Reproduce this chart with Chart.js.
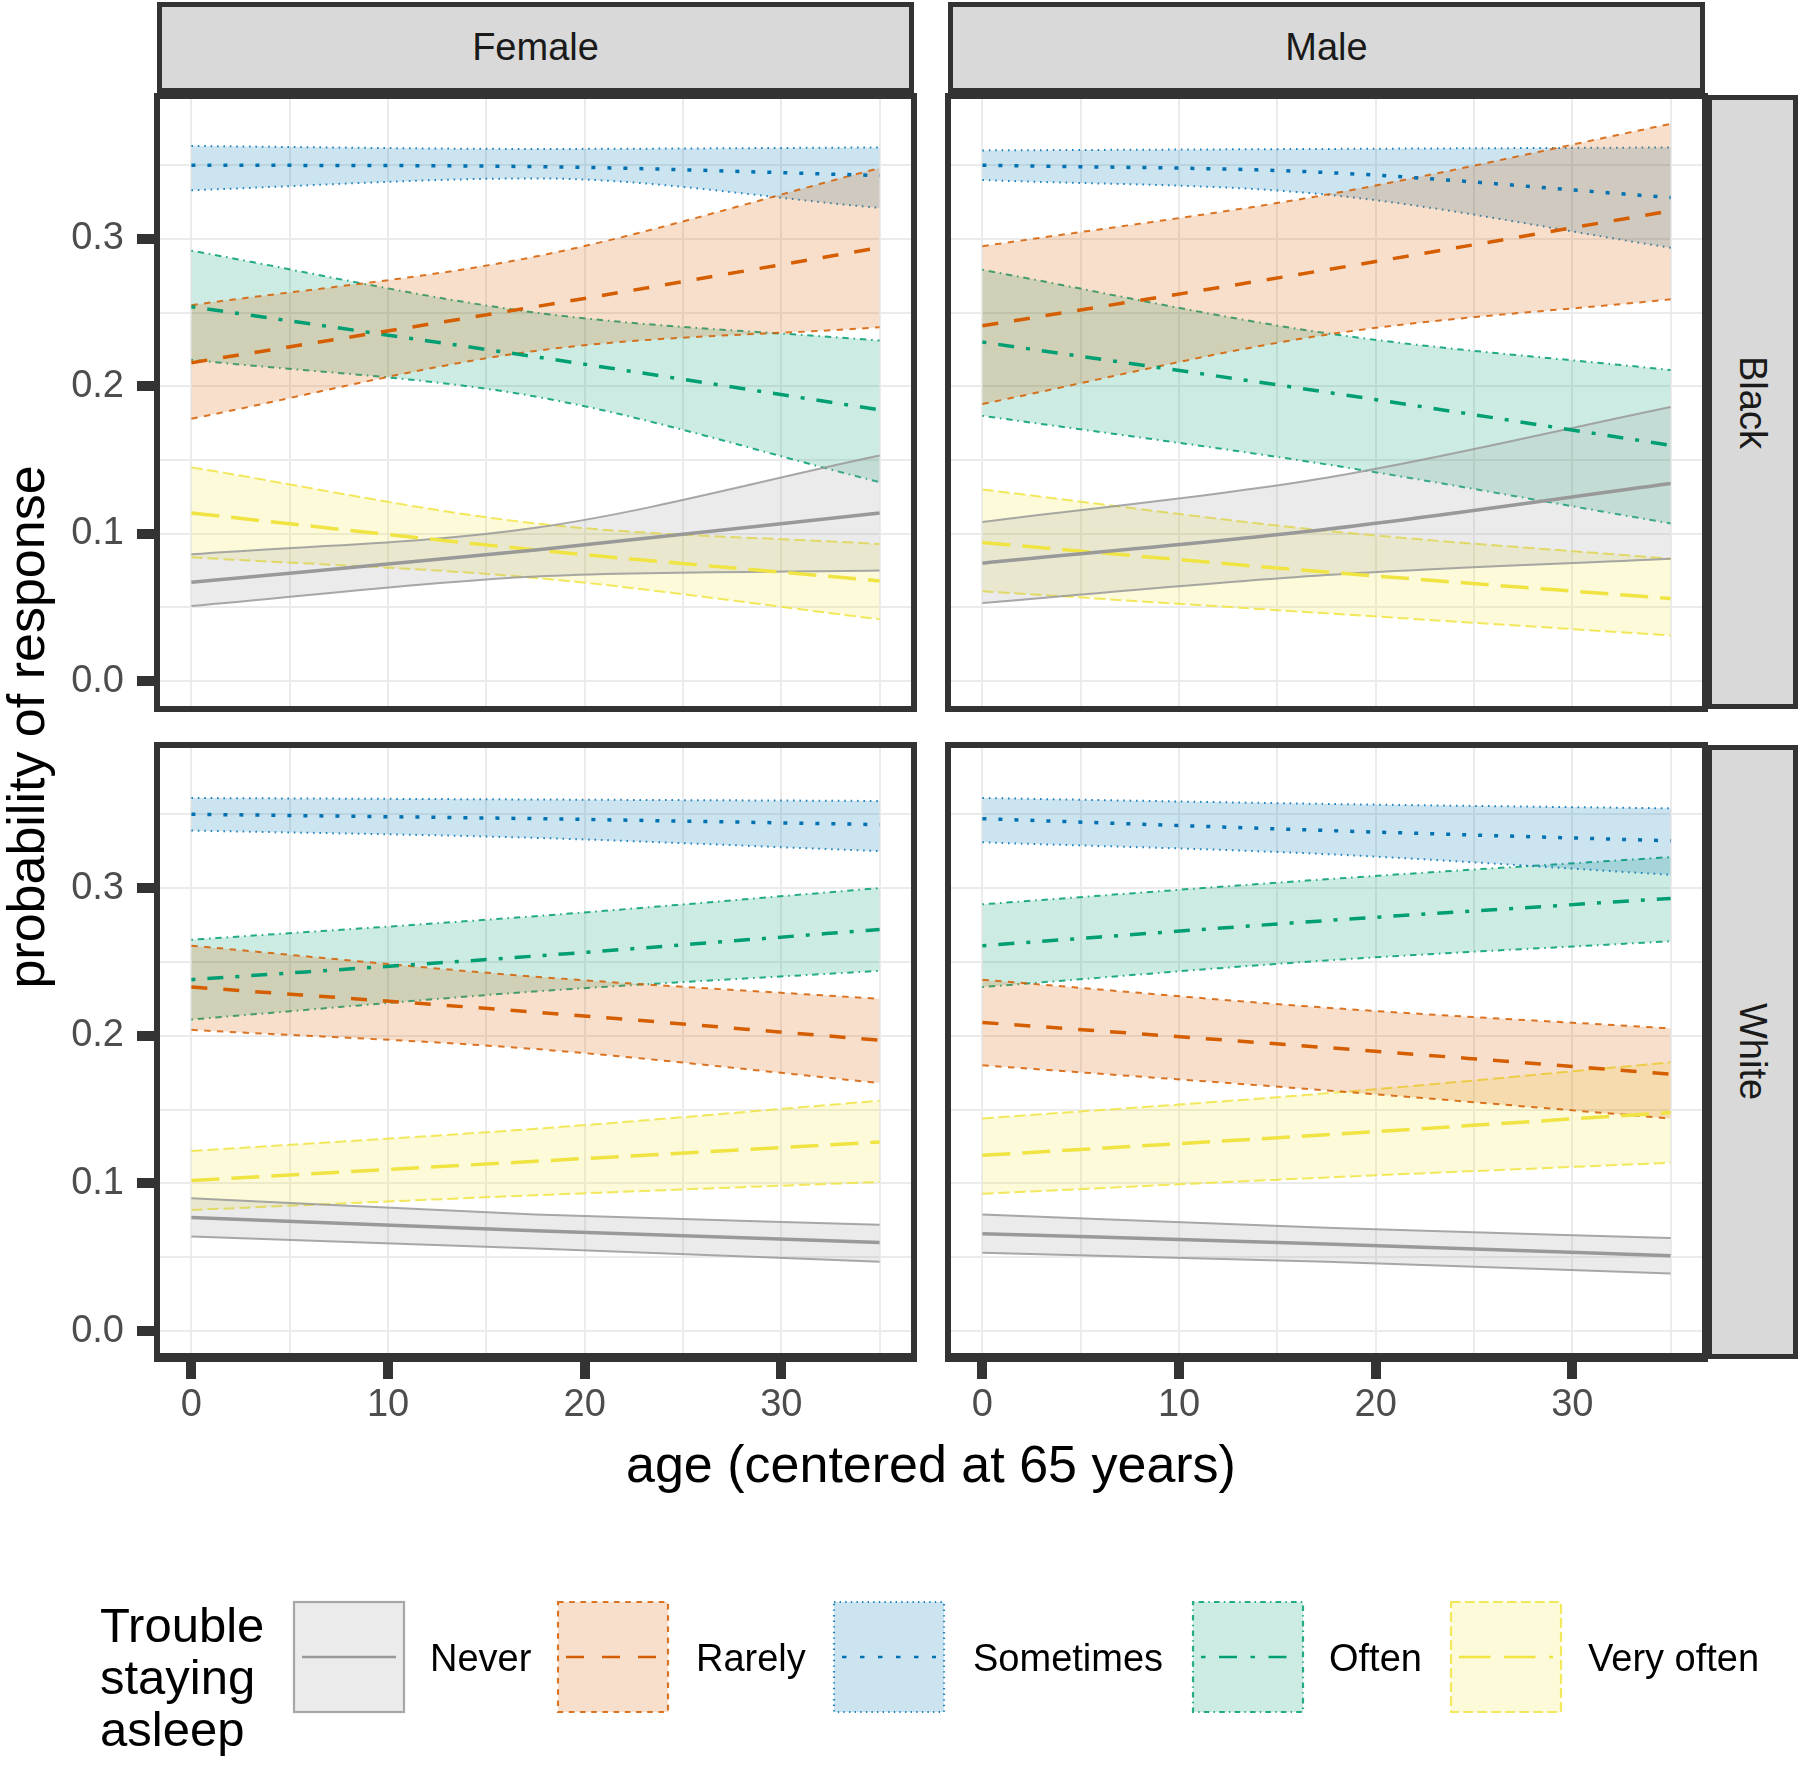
<!DOCTYPE html>
<html lang="en">
<head>
<meta charset="UTF-8">
<title>Trouble staying asleep by age</title>
<script src="https://cdn.jsdelivr.net/npm/chart.js"></script>
<style>
  body { margin: 0; background: #fff; width: 1800px; height: 1768px; position: relative; overflow: hidden;
         font-family: "Liberation Sans", Arial, sans-serif; }
  canvas { position: absolute; }
  .strip { position: absolute; box-sizing: border-box; border: 5px solid #333; background: #d9d9d9;
           color: #1a1a1a; font-size: 38px; display: flex; align-items: center; justify-content: center; }
  .strip.side span { writing-mode: vertical-rl; }
  .txt { position: absolute; white-space: nowrap; }
</style>
</head>
<body>
  <div class="strip" style="left:157px;top:2px;width:757px;height:91px">Female</div>
  <div class="strip" style="left:948px;top:2px;width:757px;height:91px">Male</div>
  <div class="strip side" style="left:1707px;top:95px;width:91px;height:614px"><span>Black</span></div>
  <div class="strip side" style="left:1707px;top:745px;width:91px;height:614px"><span>White</span></div>

  <canvas id="fb" width="924" height="633" style="left:0px;top:86px"></canvas>
  <canvas id="mb" width="777" height="633" style="left:938px;top:86px"></canvas>
  <canvas id="fw" width="924" height="725" style="left:0px;top:735px"></canvas>
  <canvas id="mw" width="777" height="725" style="left:938px;top:735px"></canvas>

  <div class="txt" style="left:-374px;top:697px;width:800px;height:60px;line-height:60px;text-align:center;font-size:52px;transform:rotate(-90deg)">probability of response</div>
  <div class="txt" style="left:431px;top:1434px;width:1000px;height:60px;line-height:60px;text-align:center;font-size:52px">age (centered at 65 years)</div>

  <canvas id="legendKeys" width="1800" height="140" style="left:0px;top:1590px"></canvas>
  <div class="txt" style="left:100px;top:1599px;font-size:49px;line-height:52px">Trouble<br>staying<br>asleep</div>
  <div id="legendLabels"></div>

<script>
// ages where the curves were read
const ages = [0, 17.5, 35];
const responses = ['Never', 'Rarely', 'Sometimes', 'Often', 'Very often'];
const colors = ['#999999', '#D55E00', '#0072B2', '#009E73', '#F0E442'];
const dashUnits = [[], [4, 4], [1, 3], [1, 3, 4, 3], [7, 3]];
const xTicks = [0, 5, 10, 15, 20, 25, 30, 35];
const yTicks = [0, 0.05, 0.1, 0.15, 0.2, 0.25, 0.3, 0.35];

// each: [lower, mean, upper] at ages
const femaleBlackNever     = [[0.051, 0.071, 0.075], [0.067, 0.089, 0.114], [0.086, 0.104, 0.153]];
const femaleBlackRarely    = [[0.178, 0.224, 0.240], [0.216, 0.254, 0.294], [0.255, 0.288, 0.348]];
const femaleBlackSometimes = [[0.333, 0.341, 0.321], [0.350, 0.349, 0.343], [0.363, 0.361, 0.362]];
const femaleBlackOften     = [[0.218, 0.193, 0.135], [0.254, 0.220, 0.184], [0.292, 0.250, 0.231]];
const femaleBlackVeryOften = [[0.084, 0.070, 0.042], [0.114, 0.089, 0.068], [0.145, 0.107, 0.093]];

const maleBlackNever     = [[0.053, 0.072, 0.083], [0.080, 0.103, 0.134], [0.108, 0.138, 0.186]];
const maleBlackRarely    = [[0.188, 0.235, 0.259], [0.241, 0.279, 0.319], [0.295, 0.330, 0.378]];
const maleBlackSometimes = [[0.340, 0.330, 0.294], [0.350, 0.345, 0.328], [0.360, 0.361, 0.362]];
const maleBlackOften     = [[0.180, 0.147, 0.107], [0.230, 0.196, 0.160], [0.279, 0.236, 0.211]];
const maleBlackVeryOften = [[0.061, 0.046, 0.031], [0.094, 0.074, 0.056], [0.130, 0.102, 0.083]];

const femaleWhiteNever     = [[0.064, 0.056, 0.047], [0.077, 0.068, 0.060], [0.090, 0.079, 0.072]];
const femaleWhiteRarely    = [[0.204, 0.191, 0.168], [0.233, 0.216, 0.197], [0.261, 0.240, 0.225]];
const femaleWhiteSometimes = [[0.339, 0.334, 0.325], [0.350, 0.347, 0.343], [0.361, 0.360, 0.359]];
const femaleWhiteOften     = [[0.211, 0.230, 0.244], [0.238, 0.254, 0.272], [0.265, 0.281, 0.300]];
const femaleWhiteVeryOften = [[0.082, 0.092, 0.101], [0.102, 0.115, 0.128], [0.122, 0.137, 0.156]];

const maleWhiteNever     = [[0.053, 0.047, 0.039], [0.066, 0.059, 0.051], [0.079, 0.070, 0.063]];
const maleWhiteRarely    = [[0.180, 0.163, 0.144], [0.209, 0.192, 0.174], [0.238, 0.219, 0.205]];
const maleWhiteSometimes = [[0.331, 0.323, 0.309], [0.347, 0.339, 0.332], [0.361, 0.357, 0.354]];
const maleWhiteOften     = [[0.233, 0.251, 0.264], [0.261, 0.278, 0.293], [0.289, 0.306, 0.321]];
const maleWhiteVeryOften = [[0.093, 0.104, 0.114], [0.119, 0.133, 0.148], [0.144, 0.161, 0.182]];

Chart.defaults.font.family = '"Liberation Sans", Arial, sans-serif';

function rgba(hex, a) {
  const n = parseInt(hex.slice(1), 16);
  return 'rgba(' + (n >> 16) + ',' + ((n >> 8) & 255) + ',' + (n & 255) + ',' + a + ')';
}
function dash(k, unit) {
  return dashUnits[k].map(d => d * unit);
}
const isMajor = v => Math.round(v * 100) % 10 === 0;

const panelBorder = {
  id: 'panelBorder',
  afterDraw(chart, args, opts) {
    const { ctx, chartArea: a } = chart;
    ctx.save();
    ctx.strokeStyle = '#333333';
    ctx.lineWidth = 6;
    ctx.strokeRect(a.left, a.top, a.right - a.left, a.bottom - a.top);
    if (opts.thickBottom) {
      ctx.lineWidth = 9;
      ctx.beginPath();
      ctx.moveTo(a.left - 3, a.bottom - 1.5);
      ctx.lineTo(a.right + 3, a.bottom - 1.5);
      ctx.stroke();
    }
    ctx.restore();
  }
};

function makePanel(id, series, showY, showX) {
  const datasets = [];
  series.forEach((s, k) => {
    const pts = arr => ages.map((a, i) => ({ x: a, y: arr[i] }));
    const edge = rgba(colors[k], 0.85);
    datasets.push({ data: pts(s[0]), borderColor: edge, borderWidth: 2, borderDash: dash(k, 1.6), fill: false, order: 2 });
    datasets.push({ data: pts(s[2]), borderColor: edge, borderWidth: 2, borderDash: dash(k, 1.6),
                    backgroundColor: rgba(colors[k], 0.2), fill: '-1', order: 2 });
    datasets.push({ data: pts(s[1]), borderColor: colors[k], borderWidth: 3.5, borderDash: dash(k, 4), fill: false, order: 1 });
  });

  new Chart(document.getElementById(id), {
    type: 'line',
    data: { datasets },
    plugins: [panelBorder],
    options: {
      responsive: false,
      animation: false,
      devicePixelRatio: 1,
      layout: { padding: { top: 10, right: 10, bottom: showX ? 0 : 10, left: 0 } },
      elements: { point: { radius: 0 }, line: { cubicInterpolationMode: 'monotone' } },
      plugins: { legend: { display: false }, tooltip: { enabled: false }, panelBorder: { thickBottom: showX } },
      scales: {
        x: {
          type: 'linear', min: -1.75, max: 36.75,
          afterBuildTicks: s => { s.ticks = xTicks.map(v => ({ value: v })); },
          afterFit: s => { s.height = showX ? 101 : 0; s.paddingLeft = 0; s.paddingRight = 0; },
          border: { display: false },
          grid: {
            color: '#EBEBEB', lineWidth: 2, drawTicks: showX, tickLength: 20, tickWidth: 10,
            tickColor: c => (c.tick && isMajor(c.tick.value / 100)) ? '#333333' : 'rgba(0,0,0,0)'
          },
          ticks: {
            display: showX, autoSkip: false, maxRotation: 0, padding: 4, color: '#4D4D4D', font: { size: 38 },
            callback: v => (v % 10 === 0 ? String(v) : '')
          }
        },
        y: {
          type: 'linear', min: -0.0189, max: 0.3969,
          afterBuildTicks: s => { s.ticks = yTicks.map(v => ({ value: v })); },
          afterFit: s => { s.width = showY ? 157 : 10; s.paddingTop = 0; s.paddingBottom = 0; },
          border: { display: false },
          grid: {
            color: '#EBEBEB', lineWidth: 2, drawTicks: showY, tickLength: 20, tickWidth: 10,
            tickColor: c => (c.tick && isMajor(c.tick.value)) ? '#333333' : 'rgba(0,0,0,0)'
          },
          ticks: {
            display: showY, autoSkip: false, padding: 13, color: '#4D4D4D', font: { size: 38 },
            callback: v => (isMajor(v) ? v.toFixed(1) : '')
          }
        }
      }
    }
  });
}

makePanel('fb', [femaleBlackNever, femaleBlackRarely, femaleBlackSometimes, femaleBlackOften, femaleBlackVeryOften], true, false);
makePanel('mb', [maleBlackNever, maleBlackRarely, maleBlackSometimes, maleBlackOften, maleBlackVeryOften], false, false);
makePanel('fw', [femaleWhiteNever, femaleWhiteRarely, femaleWhiteSometimes, femaleWhiteOften, femaleWhiteVeryOften], true, true);
makePanel('mw', [maleWhiteNever, maleWhiteRarely, maleWhiteSometimes, maleWhiteOften, maleWhiteVeryOften], false, true);

// legend keys and labels
const keyLefts = [294, 558, 834, 1193, 1451];
const labelLefts = [430, 696, 973, 1329, 1588];
const lk = document.getElementById('legendKeys').getContext('2d');
const labelBox = document.getElementById('legendLabels');
responses.forEach((name, k) => {
  const x = keyLefts[k], y = 12, w = 110, h = 110;
  lk.fillStyle = rgba(colors[k], 0.2);
  lk.fillRect(x, y, w, h);
  lk.strokeStyle = rgba(colors[k], 0.85);
  lk.lineWidth = 2.2;
  lk.setLineDash(dash(k, 1.4));
  lk.strokeRect(x, y, w, h);
  lk.strokeStyle = colors[k];
  lk.lineWidth = 2.5;
  lk.setLineDash(dash(k, 4.5));
  lk.beginPath();
  lk.moveTo(x + 8, y + h / 2);
  lk.lineTo(x + w - 8, y + h / 2);
  lk.stroke();

  const d = document.createElement('div');
  d.className = 'txt';
  d.style.cssText = 'left:' + labelLefts[k] + 'px;top:1633px;font-size:38px;line-height:50px;color:#000';
  d.textContent = name;
  labelBox.appendChild(d);
});
</script>
</body>
</html>
